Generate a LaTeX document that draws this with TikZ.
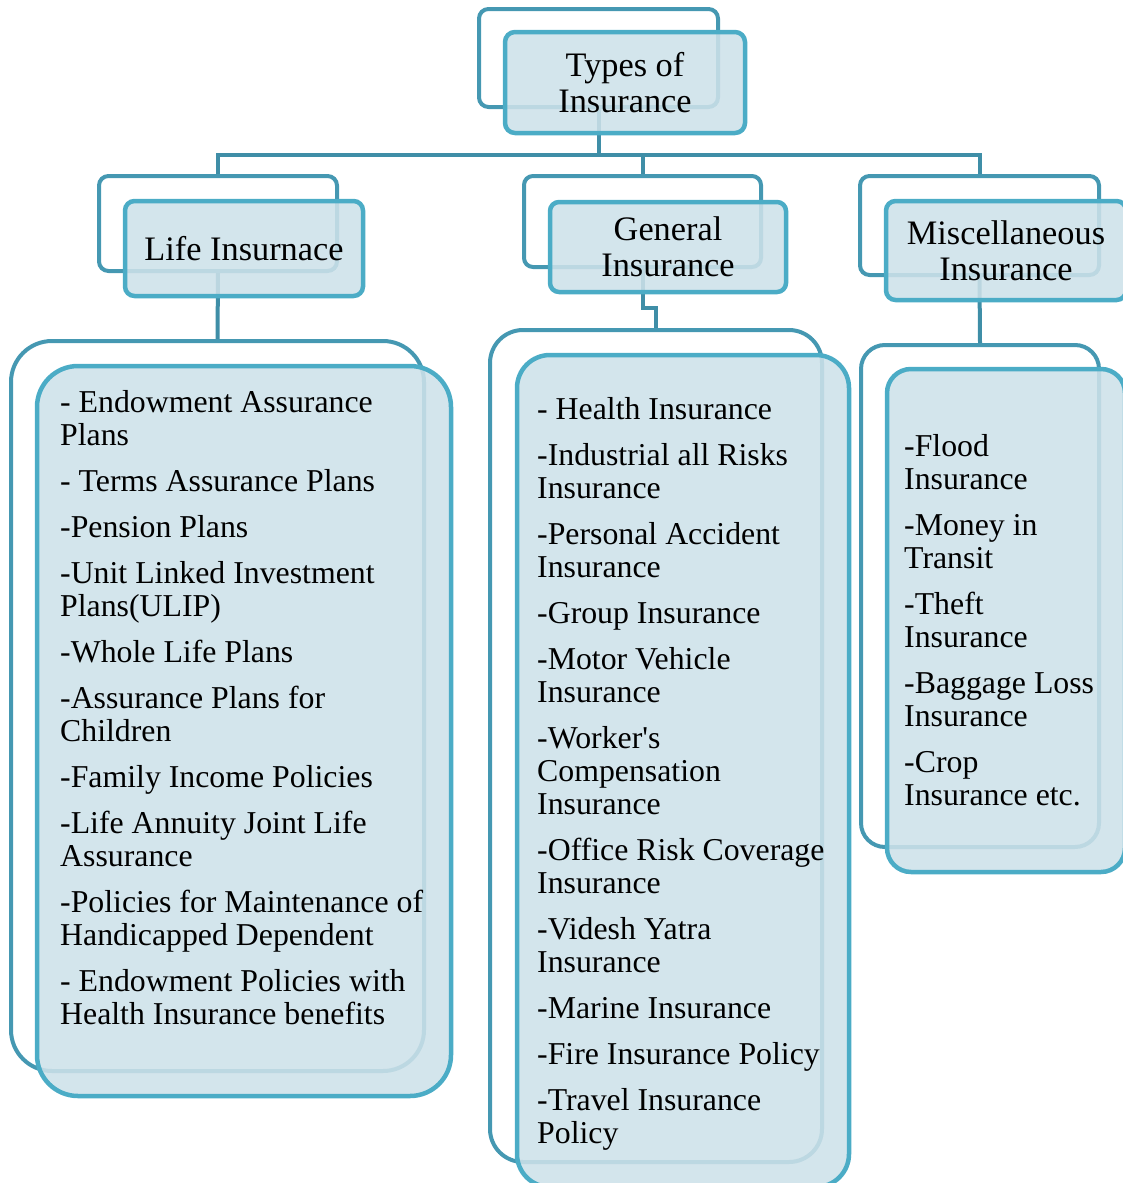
\documentclass[tikz,border=0pt]{standalone}
\usepackage{fontspec}
\setmainfont{Liberation Serif}
\definecolor{frontline}{HTML}{4BACC6}
\definecolor{backline}{HTML}{4598B2}
\definecolor{connline}{HTML}{3F8EA7}
\definecolor{boxfill}{HTML}{CDE1E9}
\begin{document}
\begin{tikzpicture}[x=1pt,y=-1pt,
  backbox/.style={draw=backline, line width=4pt, inner sep=0pt},
  frontbox/.style={draw=frontline, line width=4.5pt, fill=boxfill, fill opacity=0.88, text opacity=1, inner sep=0pt},
  conn/.style={draw=connline, line width=4pt},
  titletext/.style={font=\fontsize{34.3}{36}\selectfont, align=center},
  listtext/.style={font=\fontsize{31.8}{33}\selectfont, anchor=base west, inner sep=0pt}
]
\useasboundingbox (0,0) rectangle (1123,1183);
\clip (0,0) rectangle (1123,1183);

% back frames (level 0/1)
\node[backbox, minimum width=239pt, minimum height=98pt, rounded corners=9.5pt] (topback) at (598.5,58) {};
\node[backbox, minimum width=238pt, minimum height=95pt, rounded corners=9.5pt] (lifeback) at (218,223.5) {};
\node[backbox, minimum width=237pt, minimum height=91pt, rounded corners=9pt] (genback) at (642.5,221.5) {};
\node[backbox, minimum width=239pt, minimum height=99pt, rounded corners=9.5pt] (miscback) at (979.5,225.5) {};
% back frames (lists)
\node[backbox, minimum width=413pt, minimum height=730pt, rounded corners=41pt] (lifelistback) at (217.5,706) {};
\node[backbox, minimum width=332pt, minimum height=832pt, rounded corners=33pt] (genlistback) at (656,746) {};
\node[backbox, minimum width=238pt, minimum height=502pt, rounded corners=24pt] (misclistback) at (980,596) {};

% connectors
\coordinate (bus) at (0,155);
\coordinate (jog) at (0,308);
\draw[conn] (topback.south) -- (topback.south |- bus);
\draw[conn] (lifeback.north) -- (lifeback.north |- bus) -- (miscback.north |- bus) -- (miscback.north);
\draw[conn] (genback.north |- bus) -- (genback.north);
\draw[conn] (lifeback.south) -- (lifelistback.north);
\draw[conn] (genback.south) -- (genback.south |- jog) -- (genlistback.north |- jog) -- (genlistback.north);
\draw[conn] (miscback.south) -- (misclistback.north);

% front boxes (level 0/1)
\node[frontbox, titletext, minimum width=240pt, minimum height=101pt, rounded corners=10pt] (top) at (625,82.5) {Types of\\Insurance};
\node[frontbox, titletext, minimum width=238pt, minimum height=95pt, rounded corners=9.5pt] (life) at (244,248.5) {Life Insurnace};
\node[frontbox, titletext, minimum width=236pt, minimum height=90pt, rounded corners=9pt] (gen) at (668,247) {General\\Insurance};
\node[frontbox, titletext, minimum width=240pt, minimum height=99pt, rounded corners=9.5pt] (misc) at (1006,250.5) {Miscellaneous\\Insurance};

% front boxes (lists)
\node[frontbox, minimum width=414pt, minimum height=730pt, rounded corners=41pt] (lifelist) at (244,731) {};
\node[frontbox, minimum width=332pt, minimum height=832pt, rounded corners=33pt] (genlist) at (683,771) {};
\node[frontbox, minimum width=238pt, minimum height=503pt, rounded corners=24pt] (misclist) at (1006,620.5) {};

% list texts
\node[listtext] (lifetext) at (60,412) {\begin{tabular}[t]{@{}l@{}}
- Endowment Assurance\\ Plans\\[13pt]
- Terms Assurance Plans\\[13pt]
-Pension Plans\\[13pt]
-Unit Linked Investment\\ Plans(ULIP)\\[13pt]
-Whole Life Plans\\[13pt]
-Assurance Plans for\\ Children\\[13pt]
-Family Income Policies\\[13pt]
-Life Annuity Joint Life\\ Assurance\\[13pt]
-Policies for Maintenance of\\ Handicapped Dependent\\[13pt]
- Endowment Policies with\\ Health Insurance benefits
\end{tabular}};

\node[listtext] (gentext) at (537,419) {\begin{tabular}[t]{@{}l@{}}
- Health Insurance\\[13pt]
-Industrial all Risks\\ Insurance\\[13pt]
-Personal Accident\\ Insurance\\[13pt]
-Group Insurance\\[13pt]
-Motor Vehicle\\ Insurance\\[13pt]
-Worker\textquotesingle s\\ Compensation\\ Insurance\\[13pt]
-Office Risk Coverage\\ Insurance\\[13pt]
-Videsh Yatra\\ Insurance\\[13pt]
-Marine Insurance\\[13pt]
-Fire Insurance Policy\\[13pt]
-Travel Insurance\\ Policy
\end{tabular}};

\node[listtext] (misctext) at (904,456) {\begin{tabular}[t]{@{}l@{}}
-Flood\\ Insurance\\[13pt]
-Money in\\ Transit\\[13pt]
-Theft\\ Insurance\\[13pt]
-Baggage Loss\\ Insurance\\[13pt]
-Crop\\ Insurance etc.
\end{tabular}};
\end{tikzpicture}
\end{document}
